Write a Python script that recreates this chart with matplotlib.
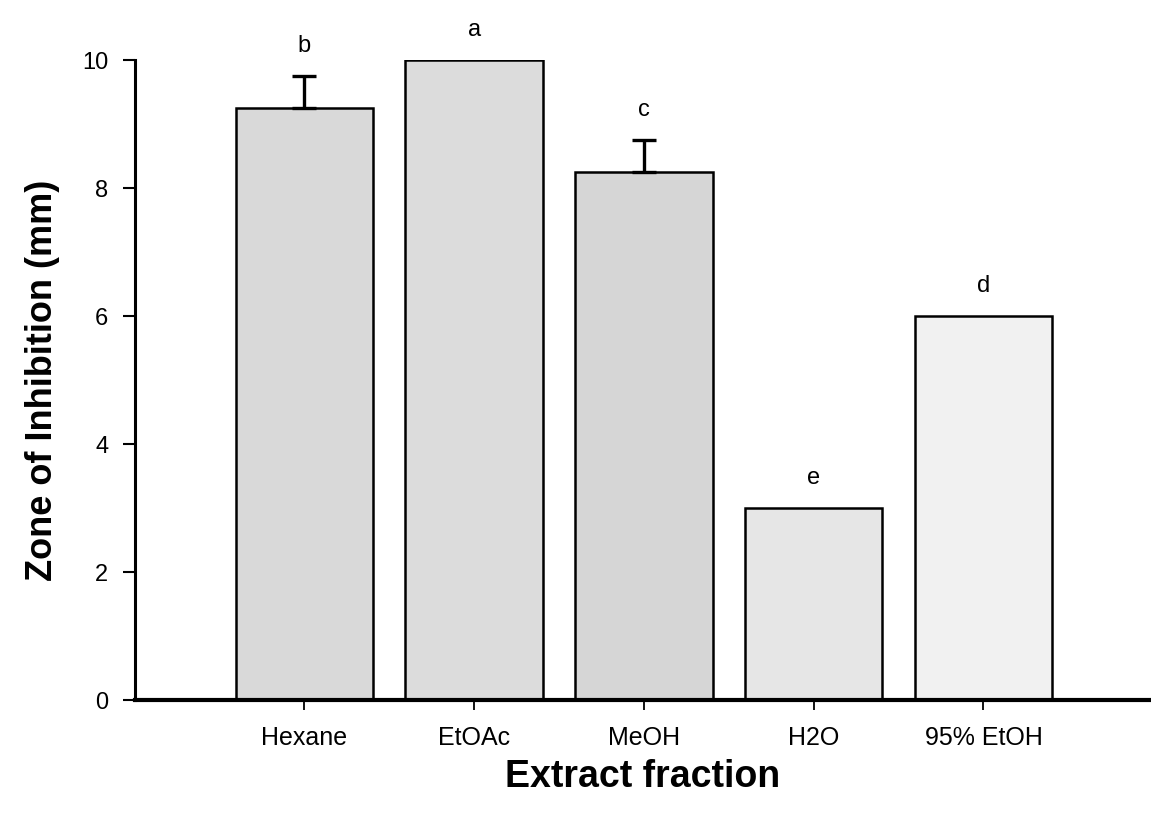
import matplotlib.pyplot as plt

# data
fractions = ["Hexane", "EtOAc", "MeOH", "H2O", "95% EtOH"]
zone_mm = [9.25, 10.0, 8.25, 3.0, 6.0]
zone_err = [0.5, 0.0, 0.5, 0.0, 0.0]
letters = ["b", "a", "c", "e", "d"]

# styling
bar_colors = ["#d9d9d9", "#dcdcdc", "#d6d6d6", "#e6e6e6", "#f1f1f1"]

plt.rcParams['font.family'] = ['Liberation Sans', 'DejaVu Sans']

fig = plt.figure(figsize=(11.51, 8.14), dpi=100)
ax = fig.add_axes([0.117, 0.14, 0.882, 0.786])

x = list(range(len(fractions)))
ax.bar(x, zone_mm, width=0.81, color=bar_colors, edgecolor="black",
       linewidth=1.8, zorder=2)

# error bars only upward, where there is an error
for xi, v, e in zip(x, zone_mm, zone_err):
    if e > 0:
        ax.errorbar(xi, v, yerr=[[0], [e]], fmt="none", ecolor="black",
                    elinewidth=2.4, capsize=8.5, capthick=2.4, zorder=3)

for xi, v, e, s in zip(x, zone_mm, zone_err, letters):
    ax.annotate(s, (xi, v + e), xytext=(0, 22), textcoords="offset points",
                ha="center", va="center", fontsize=17, annotation_clip=False)

ax.set_xlim(-1, 4.98)
ax.set_ylim(0, 10)
ax.set_yticks([0, 2, 4, 6, 8, 10])
ax.set_xticks(x)
ax.set_xticklabels(fractions)

for side in ["top", "right"]:
    ax.spines[side].set_visible(False)
ax.spines["left"].set_linewidth(2.2)
ax.spines["bottom"].set_linewidth(3.0)

ax.tick_params(axis="y", direction="out", length=9, width=1.5, pad=10,
               labelsize=17)
ax.tick_params(axis="x", direction="out", length=7, width=1.3, pad=12,
               labelsize=18)

ax.set_ylabel("Zone of Inhibition (mm)", fontsize=26, fontweight="bold",
              labelpad=16)
ax.set_xlabel("Extract fraction", fontsize=27, fontweight="bold",
              labelpad=6)

fig.savefig("out.png", dpi=100)
